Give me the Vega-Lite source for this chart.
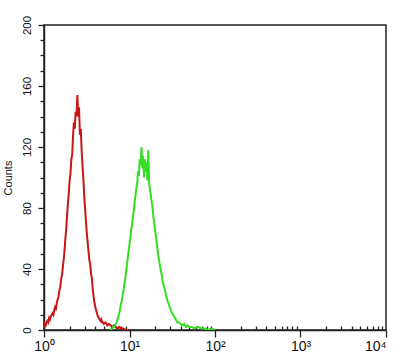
{
  "$schema": "https://vega.github.io/schema/vega-lite/v6.json",
  "width": 342,
  "height": 305,
  "autosize": {"type": "none"},
  "padding": {"left": 44, "top": 25, "right": 14, "bottom": 30},
  "background": "white",
  "config": {
    "view": {"stroke": "#222", "strokeWidth": 1.5},
    "font": "Liberation Sans"
  },
  "data": {"values": [
    {"series":"control","intensity":1.000,"count":2},
    {"series":"control","intensity":1.023,"count":4},
    {"series":"control","intensity":1.047,"count":3},
    {"series":"control","intensity":1.072,"count":5},
    {"series":"control","intensity":1.096,"count":6},
    {"series":"control","intensity":1.122,"count":5},
    {"series":"control","intensity":1.148,"count":8},
    {"series":"control","intensity":1.175,"count":7},
    {"series":"control","intensity":1.202,"count":9},
    {"series":"control","intensity":1.230,"count":10},
    {"series":"control","intensity":1.259,"count":11},
    {"series":"control","intensity":1.288,"count":10},
    {"series":"control","intensity":1.318,"count":13},
    {"series":"control","intensity":1.349,"count":15},
    {"series":"control","intensity":1.380,"count":14},
    {"series":"control","intensity":1.413,"count":18},
    {"series":"control","intensity":1.445,"count":20},
    {"series":"control","intensity":1.479,"count":22},
    {"series":"control","intensity":1.514,"count":26},
    {"series":"control","intensity":1.549,"count":28},
    {"series":"control","intensity":1.585,"count":33},
    {"series":"control","intensity":1.622,"count":36},
    {"series":"control","intensity":1.660,"count":41},
    {"series":"control","intensity":1.698,"count":46},
    {"series":"control","intensity":1.738,"count":52},
    {"series":"control","intensity":1.778,"count":60},
    {"series":"control","intensity":1.820,"count":66},
    {"series":"control","intensity":1.862,"count":75},
    {"series":"control","intensity":1.905,"count":83},
    {"series":"control","intensity":1.950,"count":90},
    {"series":"control","intensity":1.995,"count":98},
    {"series":"control","intensity":2.042,"count":103},
    {"series":"control","intensity":2.089,"count":112},
    {"series":"control","intensity":2.138,"count":115},
    {"series":"control","intensity":2.188,"count":128},
    {"series":"control","intensity":2.239,"count":136},
    {"series":"control","intensity":2.291,"count":132},
    {"series":"control","intensity":2.344,"count":143},
    {"series":"control","intensity":2.399,"count":140},
    {"series":"control","intensity":2.455,"count":154},
    {"series":"control","intensity":2.512,"count":140},
    {"series":"control","intensity":2.570,"count":146},
    {"series":"control","intensity":2.630,"count":128},
    {"series":"control","intensity":2.692,"count":132},
    {"series":"control","intensity":2.754,"count":118},
    {"series":"control","intensity":2.818,"count":108},
    {"series":"control","intensity":2.884,"count":100},
    {"series":"control","intensity":2.951,"count":88},
    {"series":"control","intensity":3.020,"count":80},
    {"series":"control","intensity":3.090,"count":72},
    {"series":"control","intensity":3.162,"count":64},
    {"series":"control","intensity":3.236,"count":58},
    {"series":"control","intensity":3.311,"count":52},
    {"series":"control","intensity":3.388,"count":46},
    {"series":"control","intensity":3.467,"count":43},
    {"series":"control","intensity":3.548,"count":37},
    {"series":"control","intensity":3.631,"count":34},
    {"series":"control","intensity":3.715,"count":27},
    {"series":"control","intensity":3.802,"count":22},
    {"series":"control","intensity":3.890,"count":18},
    {"series":"control","intensity":3.981,"count":15},
    {"series":"control","intensity":4.074,"count":13},
    {"series":"control","intensity":4.169,"count":11},
    {"series":"control","intensity":4.266,"count":9},
    {"series":"control","intensity":4.365,"count":8},
    {"series":"control","intensity":4.467,"count":7},
    {"series":"control","intensity":4.571,"count":6},
    {"series":"control","intensity":4.677,"count":7},
    {"series":"control","intensity":4.786,"count":5},
    {"series":"control","intensity":4.898,"count":5},
    {"series":"control","intensity":5.012,"count":4},
    {"series":"control","intensity":5.248,"count":5},
    {"series":"control","intensity":5.495,"count":3},
    {"series":"control","intensity":5.754,"count":4},
    {"series":"control","intensity":6.026,"count":3},
    {"series":"control","intensity":6.310,"count":2},
    {"series":"control","intensity":6.607,"count":3},
    {"series":"control","intensity":6.918,"count":2},
    {"series":"control","intensity":7.244,"count":1},
    {"series":"control","intensity":7.586,"count":2},
    {"series":"control","intensity":7.943,"count":1},
    {"series":"control","intensity":8.511,"count":1},
    {"series":"control","intensity":9.120,"count":0},
    {"series":"control","intensity":10.0,"count":0},
    {"series":"sample","intensity":6.026,"count":0},
    {"series":"sample","intensity":6.166,"count":1},
    {"series":"sample","intensity":6.310,"count":1},
    {"series":"sample","intensity":6.457,"count":2},
    {"series":"sample","intensity":6.607,"count":2},
    {"series":"sample","intensity":6.761,"count":3},
    {"series":"sample","intensity":6.918,"count":4},
    {"series":"sample","intensity":7.079,"count":5},
    {"series":"sample","intensity":7.244,"count":7},
    {"series":"sample","intensity":7.413,"count":9},
    {"series":"sample","intensity":7.586,"count":11},
    {"series":"sample","intensity":7.762,"count":14},
    {"series":"sample","intensity":7.943,"count":17},
    {"series":"sample","intensity":8.128,"count":19},
    {"series":"sample","intensity":8.318,"count":23},
    {"series":"sample","intensity":8.511,"count":26},
    {"series":"sample","intensity":8.710,"count":30},
    {"series":"sample","intensity":8.913,"count":34},
    {"series":"sample","intensity":9.120,"count":38},
    {"series":"sample","intensity":9.333,"count":43},
    {"series":"sample","intensity":9.550,"count":47},
    {"series":"sample","intensity":9.772,"count":52},
    {"series":"sample","intensity":10.00,"count":56},
    {"series":"sample","intensity":10.23,"count":60},
    {"series":"sample","intensity":10.47,"count":66},
    {"series":"sample","intensity":10.72,"count":69},
    {"series":"sample","intensity":10.96,"count":75},
    {"series":"sample","intensity":11.22,"count":78},
    {"series":"sample","intensity":11.48,"count":84},
    {"series":"sample","intensity":11.75,"count":88},
    {"series":"sample","intensity":12.02,"count":93},
    {"series":"sample","intensity":12.30,"count":96},
    {"series":"sample","intensity":12.59,"count":104},
    {"series":"sample","intensity":12.88,"count":101},
    {"series":"sample","intensity":13.18,"count":112},
    {"series":"sample","intensity":13.49,"count":108},
    {"series":"sample","intensity":13.80,"count":120},
    {"series":"sample","intensity":14.13,"count":106},
    {"series":"sample","intensity":14.45,"count":114},
    {"series":"sample","intensity":14.79,"count":100},
    {"series":"sample","intensity":15.14,"count":112},
    {"series":"sample","intensity":15.49,"count":104},
    {"series":"sample","intensity":15.85,"count":110},
    {"series":"sample","intensity":16.22,"count":98},
    {"series":"sample","intensity":16.60,"count":118},
    {"series":"sample","intensity":16.98,"count":96},
    {"series":"sample","intensity":17.38,"count":92},
    {"series":"sample","intensity":17.78,"count":88},
    {"series":"sample","intensity":18.20,"count":84},
    {"series":"sample","intensity":18.62,"count":80},
    {"series":"sample","intensity":19.05,"count":74},
    {"series":"sample","intensity":19.50,"count":70},
    {"series":"sample","intensity":19.95,"count":65},
    {"series":"sample","intensity":20.42,"count":61},
    {"series":"sample","intensity":20.89,"count":56},
    {"series":"sample","intensity":21.38,"count":52},
    {"series":"sample","intensity":21.88,"count":48},
    {"series":"sample","intensity":22.39,"count":44},
    {"series":"sample","intensity":22.91,"count":41},
    {"series":"sample","intensity":23.44,"count":38},
    {"series":"sample","intensity":23.99,"count":35},
    {"series":"sample","intensity":24.55,"count":31},
    {"series":"sample","intensity":25.12,"count":29},
    {"series":"sample","intensity":25.70,"count":27},
    {"series":"sample","intensity":26.30,"count":25},
    {"series":"sample","intensity":26.92,"count":22},
    {"series":"sample","intensity":27.54,"count":20},
    {"series":"sample","intensity":28.18,"count":18},
    {"series":"sample","intensity":28.84,"count":17},
    {"series":"sample","intensity":29.51,"count":15},
    {"series":"sample","intensity":30.20,"count":14},
    {"series":"sample","intensity":30.90,"count":12},
    {"series":"sample","intensity":31.62,"count":11},
    {"series":"sample","intensity":32.36,"count":10},
    {"series":"sample","intensity":33.11,"count":9},
    {"series":"sample","intensity":33.88,"count":8},
    {"series":"sample","intensity":34.67,"count":7},
    {"series":"sample","intensity":35.48,"count":6},
    {"series":"sample","intensity":36.31,"count":5},
    {"series":"sample","intensity":38.02,"count":5},
    {"series":"sample","intensity":39.81,"count":4},
    {"series":"sample","intensity":41.69,"count":3},
    {"series":"sample","intensity":43.65,"count":4},
    {"series":"sample","intensity":45.71,"count":2},
    {"series":"sample","intensity":47.86,"count":3},
    {"series":"sample","intensity":50.12,"count":2},
    {"series":"sample","intensity":53.70,"count":2},
    {"series":"sample","intensity":57.54,"count":1},
    {"series":"sample","intensity":63.10,"count":2},
    {"series":"sample","intensity":69.18,"count":1},
    {"series":"sample","intensity":75.86,"count":1},
    {"series":"sample","intensity":83.18,"count":0},
    {"series":"sample","intensity":91.20,"count":1},
    {"series":"sample","intensity":100.0,"count":0}
  ]},
  "mark": {"type": "line", "strokeWidth": 2, "clip": true},
  "encoding": {
    "x": {
      "field": "intensity", "type": "quantitative",
      "scale": {"type": "log", "domain": [1, 10000], "nice": false},
      "axis": {
        "title": null,
        "grid": false,
        "values": [1,2,3,4,5,6,7,8,9,10,20,30,40,50,60,70,80,90,100,200,300,400,500,600,700,800,900,1000,2000,3000,4000,5000,6000,7000,8000,9000,10000],
        "labelExpr": "datum.value == 1 ? '10⁰' : datum.value == 10 ? '10¹' : datum.value == 100 ? '10²' : datum.value == 1000 ? '10³' : datum.value == 10000 ? '10⁴' : ''",
        "tickSize": {"condition": {"test": "indexof([1,10,100,1000,10000], datum.value) >= 0", "value": 7}, "value": -4},
        "tickColor": "#222",
        "tickWidth": 1.3,
        "domainColor": "#222",
        "domainWidth": 1.5,
        "labelFontSize": 14,
        "labelColor": "#111",
        "labelAlign": {"condition": {"test": "datum.value == 10000", "value": "right"}, "value": "center"},
        "labelDx": 4,
        "labelPadding": 2,
        "labelFlush": false,
        "labelOverlap": false
      }
    },
    "y": {
      "field": "count", "type": "quantitative",
      "scale": {"domain": [0, 200], "nice": false},
      "axis": {
        "title": "Counts",
        "titleFontSize": 11,
        "titleFontWeight": "normal",
        "titleColor": "#111",
        "titlePadding": 8,
        "grid": false,
        "values": [0,10,20,30,40,50,60,70,80,90,100,110,120,130,140,150,160,170,180,190,200],
        "labelExpr": "datum.value % 40 == 0 ? datum.label : ''",
        "tickSize": {"condition": {"test": "datum.value % 40 == 0", "value": 6}, "value": 4},
        "tickColor": "#222",
        "tickWidth": 1.3,
        "domainColor": "#222",
        "domainWidth": 1.5,
        "labelAngle": -90,
        "labelAlign": "center",
        "labelBaseline": "bottom",
        "labelFontSize": 11.5,
        "labelColor": "#111",
        "labelPadding": 6,
        "labelFlush": false,
        "labelOverlap": false
      }
    },
    "color": {
      "field": "series", "type": "nominal",
      "scale": {"domain": ["control", "sample"], "range": ["#cc1414", "#33dd22"]},
      "legend": null
    },
    "detail": {"field": "series"}
  }
}
